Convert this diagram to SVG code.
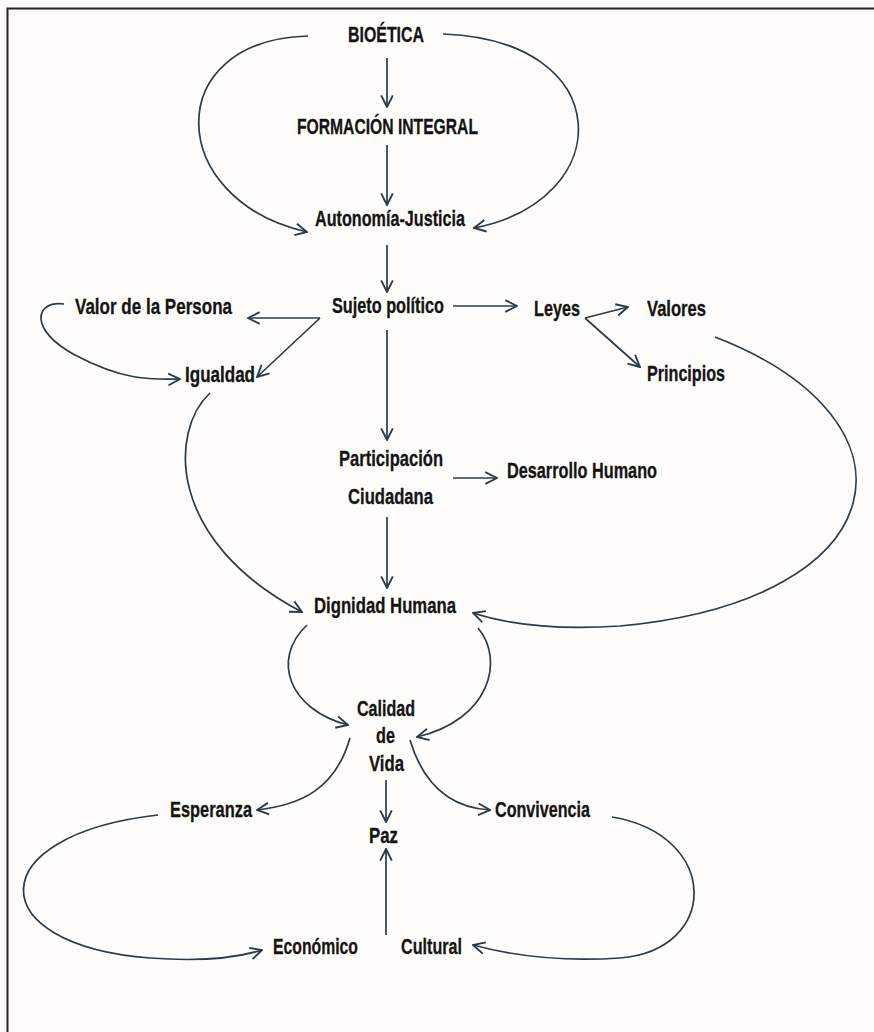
<svg xmlns="http://www.w3.org/2000/svg" width="874" height="1032" viewBox="0 0 874 1032">
<defs>
<marker id="ah" markerUnits="userSpaceOnUse" markerWidth="14" markerHeight="14" viewBox="0 0 12 12" refX="11" refY="6" orient="auto">
<path d="M1,1 L11,6 L1,11" fill="none" stroke="#2c3b46" stroke-width="1.6"/>
</marker>
<style>
.t{font-family:"Liberation Sans",Arial,sans-serif;font-weight:bold;font-size:22px;fill:#141414;stroke:#141414;stroke-width:0.3;}
.c{fill:none;stroke:#2c3b46;stroke-width:1.7;marker-end:url(#ah);}
</style>
</defs>
<rect x="0" y="0" width="874" height="1032" fill="#fffdfb"/>
<path d="M7.5,1032 V8.5 H874" fill="none" stroke="#222" stroke-width="2"/>
<g id="connectors">
<path class="c" d="M308,36 C160,40 165,200 307,232"/>
<path class="c" d="M443,34 C618,40 618,200 474,228"/>
<path class="c" d="M387,58 V107"/>
<path class="c" d="M387,145 V205"/>
<path class="c" d="M387,245 V292"/>
<path class="c" d="M453,306 H517"/>
<path class="c" d="M320,318 H248"/>
<path class="c" d="M320,318 L257,377"/>
<path class="c" d="M387,330 V440"/>
<path class="c" d="M585,318 L628,307"/>
<path class="c" d="M585,318 L640,367"/>
<path class="c" d="M715,337 C930,420 900,600 620,626 C560,630 510,625 473,613"/>
<path class="c" d="M64,304 C35,300 28,330 75,355 S150,380 180,379"/>
<path class="c" d="M210,393 C170,430 165,540 302,612"/>
<path class="c" d="M453,478 H497"/>
<path class="c" d="M387,517 V588"/>
<path class="c" d="M307,625 C270,660 290,710 348,725"/>
<path class="c" d="M478,628 C505,660 490,720 417,737"/>
<path class="c" d="M350,738 C335,790 300,805 257,810"/>
<path class="c" d="M410,740 C425,790 455,808 490,810"/>
<path class="c" d="M386,780 V822"/>
<path class="c" d="M386,935 V849"/>
<path class="c" d="M158,815 C-20,835 -20,945 150,958 C190,961 230,960 262,950"/>
<path class="c" d="M612,817 C720,835 720,950 620,958 C560,962 510,955 473,945"/>
</g>
<g id="n-bioetica"><text class="t" x="348" y="42" textLength="76" lengthAdjust="spacingAndGlyphs">BIOÉTICA</text></g>
<g id="n-formacion"><text class="t" x="297" y="134" textLength="181" lengthAdjust="spacingAndGlyphs">FORMACIÓN INTEGRAL</text></g>
<g id="n-autonomia"><text class="t" x="315" y="226" textLength="150" lengthAdjust="spacingAndGlyphs">Autonomía-Justicia</text></g>
<g id="n-sujeto"><text class="t" x="332" y="313" textLength="112" lengthAdjust="spacingAndGlyphs">Sujeto político</text></g>
<g id="n-leyes"><text class="t" x="534" y="316" textLength="46" lengthAdjust="spacingAndGlyphs">Leyes</text></g>
<g id="n-valores"><text class="t" x="647" y="316" textLength="59" lengthAdjust="spacingAndGlyphs">Valores</text></g>
<g id="n-principios"><text class="t" x="647" y="381" textLength="78" lengthAdjust="spacingAndGlyphs">Principios</text></g>
<g id="n-valor"><text class="t" x="75" y="314" textLength="157" lengthAdjust="spacingAndGlyphs">Valor de la Persona</text></g>
<g id="n-igualdad"><text class="t" x="185" y="382" textLength="70" lengthAdjust="spacingAndGlyphs">Igualdad</text></g>
<g id="n-participacion"><text class="t" x="339" y="466" textLength="104" lengthAdjust="spacingAndGlyphs">Participación</text><text class="t" x="348" y="504" textLength="85" lengthAdjust="spacingAndGlyphs">Ciudadana</text></g>
<g id="n-desarrollo"><text class="t" x="507" y="478" textLength="150" lengthAdjust="spacingAndGlyphs">Desarrollo Humano</text></g>
<g id="n-dignidad"><text class="t" x="314" y="613" textLength="142" lengthAdjust="spacingAndGlyphs">Dignidad Humana</text></g>
<g id="n-calidad"><text class="t" x="357" y="716" textLength="58" lengthAdjust="spacingAndGlyphs">Calidad</text><text class="t" x="376" y="743" textLength="19" lengthAdjust="spacingAndGlyphs">de</text><text class="t" x="369" y="771" textLength="35" lengthAdjust="spacingAndGlyphs">Vida</text></g>
<g id="n-esperanza"><text class="t" x="170" y="817" textLength="82" lengthAdjust="spacingAndGlyphs">Esperanza</text></g>
<g id="n-convivencia"><text class="t" x="495" y="817" textLength="95" lengthAdjust="spacingAndGlyphs">Convivencia</text></g>
<g id="n-paz"><text class="t" x="369" y="843" textLength="29" lengthAdjust="spacingAndGlyphs">Paz</text></g>
<g id="n-economico"><text class="t" x="273" y="954" textLength="85" lengthAdjust="spacingAndGlyphs">Económico</text></g>
<g id="n-cultural"><text class="t" x="401" y="954" textLength="61" lengthAdjust="spacingAndGlyphs">Cultural</text></g>
</svg>
